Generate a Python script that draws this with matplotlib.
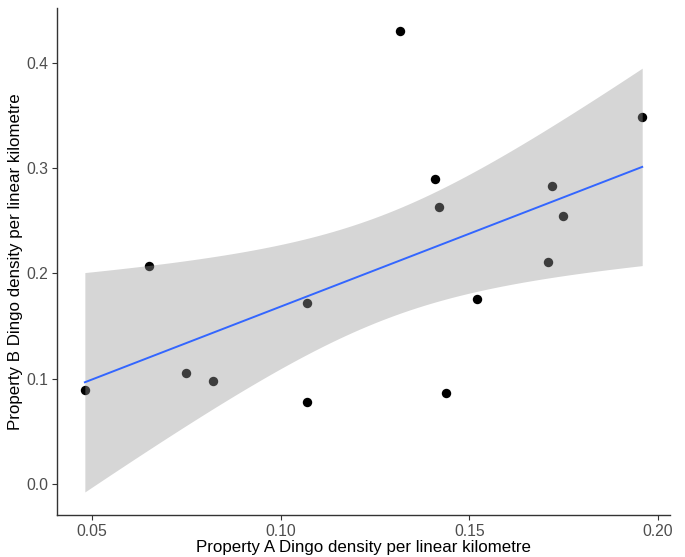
import numpy as np
import matplotlib
matplotlib.use("Agg")
import matplotlib.pyplot as plt

plt.rcParams['font.family'] = ['Liberation Sans', 'DejaVu Sans']

# Data
property_a = [0.0481, 0.0651, 0.0749, 0.0820, 0.1070, 0.1070, 0.1317, 0.1408,
              0.1419, 0.1439, 0.1519, 0.1708, 0.1719, 0.1748, 0.1958]
property_b = [0.089, 0.207, 0.1057, 0.0978, 0.172, 0.078, 0.430, 0.290,
              0.263, 0.0867, 0.176, 0.2108, 0.283, 0.2545, 0.3485]
x_ticks = [0.05, 0.10, 0.15, 0.20]
y_ticks = [0.0, 0.1, 0.2, 0.3, 0.4]
x_label = "Property A Dingo density per linear kilometre"
y_label = "Property B Dingo density per linear kilometre"

x = np.array(property_a)
y = np.array(property_b)
n = len(x)

# Linear model with 95% confidence band (like geom_smooth(method="lm"))
slope, intercept = np.polyfit(x, y, 1)
resid = y - (intercept + slope * x)
s = np.sqrt(np.sum(resid ** 2) / (n - 2))
xbar = x.mean()
sxx = np.sum((x - xbar) ** 2)
t_crit = 2.160  # t(0.975, df=13)
xs = np.linspace(x.min(), x.max(), 80)
fit = intercept + slope * xs
se = s * np.sqrt(1.0 / n + (xs - xbar) ** 2 / sxx)
lo = fit - t_crit * se
hi = fit + t_crit * se

fig = plt.figure(figsize=(6.85, 5.57), dpi=100)
ax = fig.add_axes([0.0832, 0.0754, 0.895, 0.9102])

ax.scatter(x, y, s=46, color='black', zorder=2, linewidths=0)
ax.fill_between(xs, lo, hi, color='#999999', alpha=0.4, linewidth=0, zorder=3)
ax.plot(xs, fit, color='#3366FF', linewidth=1.4, zorder=4)

# ggplot-style 5% expansion
xr = x.max() - x.min()
ax.set_xlim(x.min() - 0.05 * xr, x.max() + 0.05 * xr)
ymin = min(y.min(), lo.min())
ymax = max(y.max(), hi.max())
yr = ymax - ymin
ax.set_ylim(ymin - 0.05 * yr, ymax + 0.05 * yr)

ax.set_xticks(x_ticks)
ax.set_xticklabels([f"{v:.2f}" for v in x_ticks])
ax.set_yticks(y_ticks)
ax.set_yticklabels([f"{v:.1f}" for v in y_ticks])

for side in ['top', 'right']:
    ax.spines[side].set_visible(False)
for side in ['left', 'bottom']:
    ax.spines[side].set_color('#333333')
    ax.spines[side].set_linewidth(1.0)

ax.tick_params(axis='both', colors='#333333', length=3.5, width=0.8,
               labelsize=11.3, labelcolor='#4D4D4D', pad=3)
ax.set_xlabel(x_label, fontsize=12.2, color='black', labelpad=1)
ax.set_ylabel(y_label, fontsize=12.2, color='black', labelpad=2)

fig.savefig("out.png", dpi=100)
